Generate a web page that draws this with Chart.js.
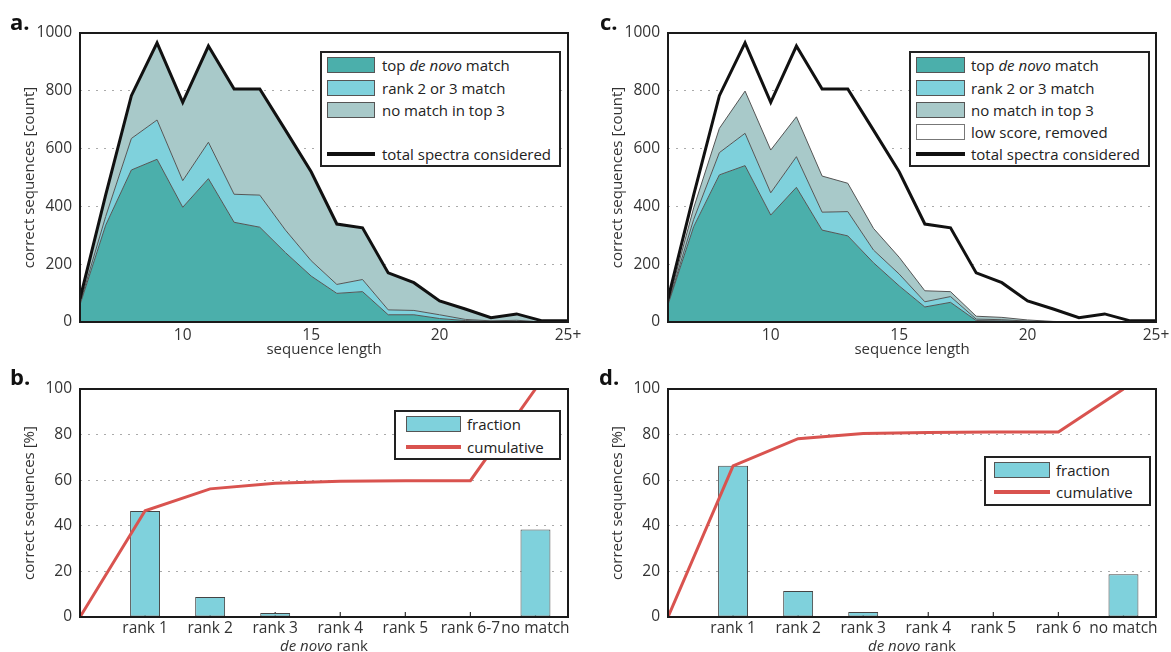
<!DOCTYPE html>
<html><head><meta charset="utf-8">
<script src="https://cdn.jsdelivr.net/npm/chart.js@4.4.1/dist/chart.umd.min.js"></script>
<style>
html,body{margin:0;padding:0;background:#fff;}
body{width:1171px;height:652px;position:relative;overflow:hidden;font-family:'Open Sans',sans-serif;color:#222;}
canvas{position:absolute;}
.lbl{position:absolute;font-weight:bold;font-size:22px;line-height:22px;color:#111;}
.legend{position:absolute;box-sizing:border-box;border:2px solid #222;background:#fff;}
.sw{position:absolute;box-sizing:border-box;}
.lt{position:absolute;font-size:15px;line-height:18px;white-space:nowrap;color:#222;}
.xt{position:absolute;font-size:15px;line-height:18px;white-space:nowrap;color:#333;transform:translateX(-50%);}
</style></head><body>
<canvas id="ca" width="590" height="362" style="left:0;top:0"></canvas>
<canvas id="cc" width="583" height="362" style="left:588px;top:0"></canvas>
<canvas id="cb" width="590" height="290" style="left:0;top:362px"></canvas>
<canvas id="cd" width="583" height="290" style="left:588px;top:362px"></canvas>
<div class="lbl" style="left:10px;top:10px">a.</div>
<div class="lbl" style="left:10px;top:365px">b.</div>
<div class="lbl" style="left:600px;top:10px">c.</div>
<div class="lbl" style="left:599px;top:365px">d.</div>
<div class="xt" style="left:324px;top:636px"><i>de novo</i> rank</div>
<div class="xt" style="left:912px;top:636px"><i>de novo</i> rank</div>
<script>
// ---------- data ----------
const seqLengths = [6,7,8,9,10,11,12,13,14,15,16,17,18,19,20,21,22,23,24,25];
const lengthTickValues = [10,15,20,25];
const lengthTickLabels = ['10','15','20','25+'];
const totalSpectra   = [80,440,783,966,760,955,806,806,664,520,339,326,170,136,73,45,15,28,4,4];
// panel a (stacked layers)
const aTopDeNovo     = [60,335,526,563,397,496,345,328,240,159,99,105,25,25,12,5,2,3,0,0];
const aRank2or3      = [5,30,109,136,92,126,97,111,78,53,31,42,17,15,13,4,2,3,0,0];
const aNoMatchTop3   = [15,75,148,267,271,333,364,367,346,308,209,179,128,96,48,36,11,22,4,4];
// panel c (stacked layers)
const cTopDeNovo     = [60,330,509,541,370,466,318,298,205,125,52,68,5,4,2,0,0,0,0,0];
const cRank2or3      = [2,25,77,112,77,106,62,84,44,41,18,20,5,4,1,1,0,0,0,0];
const cNoMatchTop3   = [3,40,84,146,148,138,125,98,75,58,38,17,10,8,4,1,0,0,0,0];
const cLowScore      = [15,45,113,167,165,245,301,326,340,296,231,221,150,120,66,43,15,28,4,4];
// panels b, d
const rankPositions  = [1,2,3,4,5,6,7];
const cumPositions   = [0,1,2,3,4,5,6,7];
const bRankLabels    = ['rank 1','rank 2','rank 3','rank 4','rank 5','rank 6-7','no match'];
const bFraction      = [46.5,8.8,1.7,0,0,0,38.4];
const bCumulative    = [0,46.6,56.2,58.7,59.5,59.8,59.8,100];
const dRankLabels    = ['rank 1','rank 2','rank 3','rank 4','rank 5','rank 6','no match'];
const dFraction      = [66.3,11.4,2.2,0.4,0.3,0.3,18.8];
const dCumulative    = [0,66.3,78.2,80.5,80.9,81.1,81.1,100];

// ---------- styling ----------
const TEAL = '#4bafab', LBLUE = '#7fd1dc', GREY = '#a8c9c9', EDGE = '#555', RED = '#d9534f';
Chart.defaults.font.family = "'Open Sans', sans-serif";
Chart.defaults.color = '#333';

function framePlugin(tickVals) {
  return {
    id: 'frame',
    beforeDatasetsDraw(chart) {
      if (!tickVals) return;
      const {ctx, chartArea: a, scales} = chart;
      ctx.save(); ctx.strokeStyle = '#333'; ctx.lineWidth = 1.2;
      tickVals.forEach(v => { const px = scales.x.getPixelForValue(v);
        ctx.beginPath(); ctx.moveTo(px, a.bottom); ctx.lineTo(px, a.bottom - 5); ctx.stroke(); });
      ctx.restore();
    },
    afterDatasetsDraw(chart) {
      const {ctx, chartArea: a} = chart;
      ctx.save(); ctx.strokeStyle = '#1a1a1a'; ctx.lineWidth = 2;
      ctx.strokeRect(a.left, a.top, a.right - a.left, a.bottom - a.top);
      ctx.restore();
    }
  };
}
function yAxis(max, step, title) {
  return {
    min: 0, max: max, stacked: true,
    ticks: {stepSize: step, padding: 8, font: {size: 15.5}, callback: v => String(v)},
    grid: {drawTicks: false, lineWidth: 1,
      color: c => (c.tick && c.tick.value > 0 && c.tick.value < max) ? '#aaa' : 'rgba(0,0,0,0)'},
    border: {display: false, dash: [2, 6]},
    title: {display: true, text: title, font: {size: 15}, padding: {top: 21, bottom: 0}},
    afterFit: s => { s.width = 80; s.paddingTop = 0; s.paddingBottom = 0; }
  };
}
function areaChart(id, layers, padRight) {
  const pts = arr => seqLengths.map((x, i) => ({x: x, y: arr[i]}));
  const datasets = layers.map((l, i) => ({
    data: pts(l.values), fill: i === 0 ? 'origin' : '-1', backgroundColor: l.color,
    borderColor: l.border, borderWidth: l.bw, stack: 'areas', order: 1,
    pointRadius: 0, tension: 0
  }));
  datasets.push({data: pts(totalSpectra), fill: false, borderColor: '#111', borderWidth: 3,
    stack: 'total', order: 0, pointRadius: 0, tension: 0});
  new Chart(document.getElementById(id), {
    type: 'line',
    data: {datasets},
    options: {
      responsive: false, animation: false, events: [],
      layout: {padding: {left: 0, top: 33, right: padRight, bottom: 0}},
      plugins: {legend: {display: false}, tooltip: {enabled: false}},
      scales: {
        x: {type: 'linear', min: 6, max: 25, offset: false,
          afterBuildTicks: s => { s.ticks = lengthTickValues.map(v => ({value: v})); },
          ticks: {callback: v => lengthTickLabels[lengthTickValues.indexOf(v)], padding: 4,
            autoSkip: false, maxRotation: 0, font: {size: 15.5}},
          grid: {display: false, drawTicks: false}, border: {display: false},
          title: {display: true, text: 'sequence length', font: {size: 15}, padding: {top: 0, bottom: 3}},
          afterFit: s => { s.height = 40; s.paddingLeft = 0; s.paddingRight = 0; }
        },
        y: yAxis(1000, 200, 'correct sequences [count]')
      }
    },
    plugins: [framePlugin(null)]
  });
}
function rankChart(id, labels, fraction, cumulative, padRight) {
  new Chart(document.getElementById(id), {
    type: 'bar',
    data: {datasets: [
      {type: 'line', data: cumPositions.map((x, i) => ({x: x, y: cumulative[i]})),
        borderColor: RED, borderWidth: 3, pointRadius: 0, tension: 0, fill: false, order: 0},
      {type: 'bar', data: rankPositions.map((x, i) => ({x: x, y: fraction[i]})),
        backgroundColor: LBLUE, borderColor: '#444', borderWidth: 1, borderSkipped: false,
        barPercentage: 0.46, categoryPercentage: 1, order: 1}
    ]},
    options: {
      responsive: false, animation: false, events: [],
      layout: {padding: {left: 0, top: 27, right: padRight, bottom: 0}},
      plugins: {legend: {display: false}, tooltip: {enabled: false}},
      scales: {
        x: {type: 'linear', min: 0, max: 7.5, offset: false,
          afterBuildTicks: s => { s.ticks = rankPositions.map(v => ({value: v})); },
          ticks: {callback: v => labels[rankPositions.indexOf(v)], padding: 2,
            autoSkip: false, maxRotation: 0, font: {size: 15.5}},
          grid: {display: false, drawTicks: false, offset: false}, border: {display: false},
          afterFit: s => { s.height = 35; s.paddingLeft = 0; s.paddingRight = 0; }
        },
        y: Object.assign(yAxis(100, 20, 'correct sequences [%]'), {stacked: false})
      }
    },
    plugins: [framePlugin(rankPositions)]
  });
}

areaChart('ca', [
  {values: aTopDeNovo, color: TEAL, border: EDGE, bw: 1},
  {values: aRank2or3, color: LBLUE, border: EDGE, bw: 1},
  {values: aNoMatchTop3, color: GREY, border: EDGE, bw: 1}
], 22);
areaChart('cc', [
  {values: cTopDeNovo, color: TEAL, border: EDGE, bw: 1},
  {values: cRank2or3, color: LBLUE, border: EDGE, bw: 1},
  {values: cNoMatchTop3, color: GREY, border: EDGE, bw: 1},
  {values: cLowScore, color: '#ffffff', border: 'rgba(0,0,0,0)', bw: 0}
], 15);
rankChart('cb', bRankLabels, bFraction, bCumulative, 22);
rankChart('cd', dRankLabels, dFraction, dCumulative, 15);

// ---------- legends (HTML, for the italic text) ----------
function legend(box, items) {
  const d = document.createElement('div');
  d.className = 'legend';
  Object.assign(d.style, {left: box.left + 'px', top: box.top + 'px', width: box.w + 'px', height: box.h + 'px'});
  items.forEach((it, i) => {
    if (!it) return;
    const cy = box.rows[i];
    const sw = document.createElement('div');
    sw.className = 'sw';
    if (it.line) {
      Object.assign(sw.style, {left: box.swX + 'px', top: (cy - 2) + 'px', width: box.swW + 'px', height: '4px', background: it.line});
    } else {
      Object.assign(sw.style, {left: box.swX + 'px', top: (cy - 8) + 'px', width: box.swW + 'px', height: '16px',
        background: it.fill, border: '1.5px solid ' + (it.stroke || '#555')});
    }
    d.appendChild(sw);
    const t = document.createElement('div');
    t.className = 'lt'; t.innerHTML = it.html;
    Object.assign(t.style, {left: box.textX + 'px', top: (cy - 9.5) + 'px'});
    d.appendChild(t);
  });
  document.body.appendChild(d);
}
const rows5 = [12, 35, 57, 79, 101];
legend({left: 320, top: 51, w: 241, h: 116, swX: 5, swW: 48, textX: 60, rows: rows5}, [
  {fill: TEAL, html: 'top <i>de novo</i> match'},
  {fill: LBLUE, html: 'rank 2 or 3 match'},
  {fill: GREY, html: 'no match in top 3'},
  null,
  {line: '#111', html: 'total spectra considered'}
]);
legend({left: 909, top: 51, w: 241, h: 116, swX: 5, swW: 49, textX: 60, rows: rows5}, [
  {fill: TEAL, html: 'top <i>de novo</i> match'},
  {fill: LBLUE, html: 'rank 2 or 3 match'},
  {fill: GREY, html: 'no match in top 3'},
  {fill: '#fff', stroke: '#777', html: 'low score, removed'},
  {line: '#111', html: 'total spectra considered'}
]);
legend({left: 394, top: 410, w: 167, h: 50, swX: 10, swW: 55, textX: 71, rows: [12, 35]}, [
  {fill: LBLUE, html: 'fraction'},
  {line: RED, html: 'cumulative'}
]);
legend({left: 984, top: 456, w: 167, h: 50, swX: 8, swW: 56, textX: 70, rows: [12, 34]}, [
  {fill: LBLUE, html: 'fraction'},
  {line: RED, html: 'cumulative'}
]);
</script>
</body></html>
